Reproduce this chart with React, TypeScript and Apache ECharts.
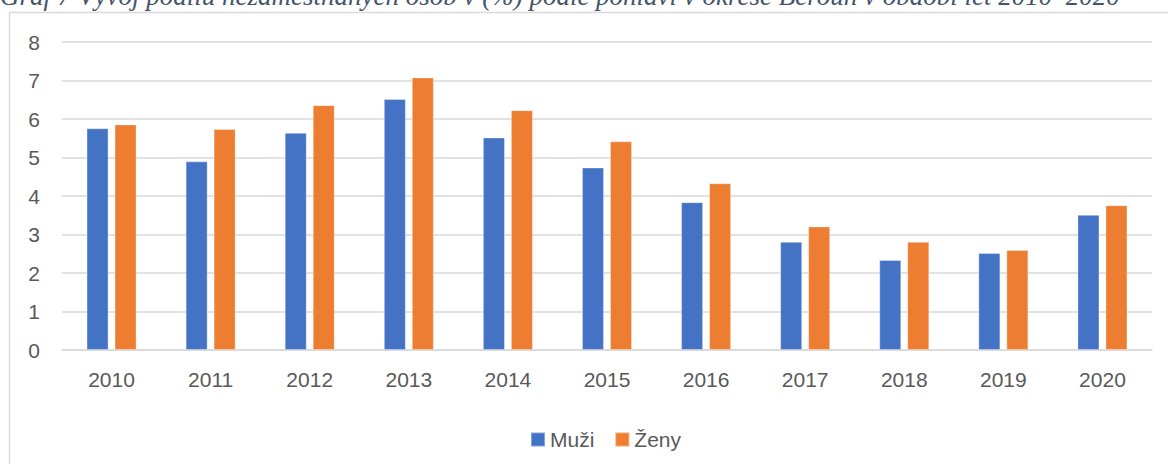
import React, { useEffect, useRef } from "react";
import * as echarts from "echarts";

const title = "Graf 7 Vývoj podílu nezaměstnaných osob v (%) podle pohlaví v okrese Beroun v období let 2010–2020";
const years = ["2010", "2011", "2012", "2013", "2014", "2015", "2016", "2017", "2018", "2019", "2020"];
const muzi = [5.76, 4.9, 5.64, 6.52, 5.52, 4.74, 3.84, 2.81, 2.34, 2.52, 3.51];
const zeny = [5.86, 5.74, 6.36, 7.08, 6.23, 5.42, 4.33, 3.21, 2.81, 2.6, 3.76];
const seriesNames = ["Muži", "Ženy"];

export default function App() {
  const ref = useRef<HTMLDivElement>(null);
  useEffect(() => {
    if (!ref.current) return;
    const chart = echarts.init(ref.current, undefined, { renderer: "svg" });
    const font = "'Liberation Sans', Arial, sans-serif";
    chart.setOption({
      animation: false,
      backgroundColor: "#ffffff",
      textStyle: { fontFamily: font },
      graphic: [
        {
          type: "rect",
          shape: { x: 9.5, y: 12.5, width: 1300, height: 600 },
          style: { fill: "none", stroke: "#d9d9d9", lineWidth: 1.5 },
          silent: true,
          z: 10,
        },
        {
          type: "text",
          x: 0,
          y: 9,
          style: {
            text: title,
            fill: "#44546a",
            font: "italic 27px 'Liberation Serif', 'Times New Roman', serif",
            verticalAlign: "bottom",
            align: "left",
          },
          silent: true,
          z: 11,
        },
      ],
      color: ["#4472c4", "#ed7d31"],
      legend: {
        data: seriesNames,
        left: 525,
        top: 424,
        itemWidth: 14,
        itemHeight: 14,
        itemGap: 20,
        icon: "rect",
        textStyle: { color: "#595959", fontSize: 21, fontFamily: font },
      },
      grid: { left: 62, right: 16, top: 42, bottom: 114, containLabel: false },
      xAxis: {
        type: "category",
        data: years,
        axisLine: { lineStyle: { color: "#d9d9d9", width: 1.5 } },
        axisTick: { show: false },
        axisLabel: { color: "#595959", fontSize: 21, margin: 19, fontFamily: font },
      },
      yAxis: {
        type: "value",
        min: 0,
        max: 8,
        interval: 1,
        axisLine: { show: false },
        axisTick: { show: false },
        splitLine: { lineStyle: { color: "#d9d9d9", width: 1.5 } },
        axisLabel: { color: "#595959", fontSize: 21, margin: 22, fontFamily: font },
      },
      series: [
        {
          name: seriesNames[0],
          type: "bar",
          data: muzi,
          barGap: "27%",
          barCategoryGap: "49.5%",
          itemStyle: { color: "#4472c4", borderColor: "rgba(255,255,255,0.35)", borderWidth: 1 },
        },
        {
          name: seriesNames[1],
          type: "bar",
          data: zeny,
          itemStyle: { color: "#ed7d31", borderColor: "rgba(255,255,255,0.35)", borderWidth: 1 },
        },
      ],
    });
    return () => chart.dispose();
  }, []);
  return (
    <div
      ref={ref}
      style={{ position: "fixed", left: 0, top: 0, width: 1168, height: 464 }}
    />
  );
}
